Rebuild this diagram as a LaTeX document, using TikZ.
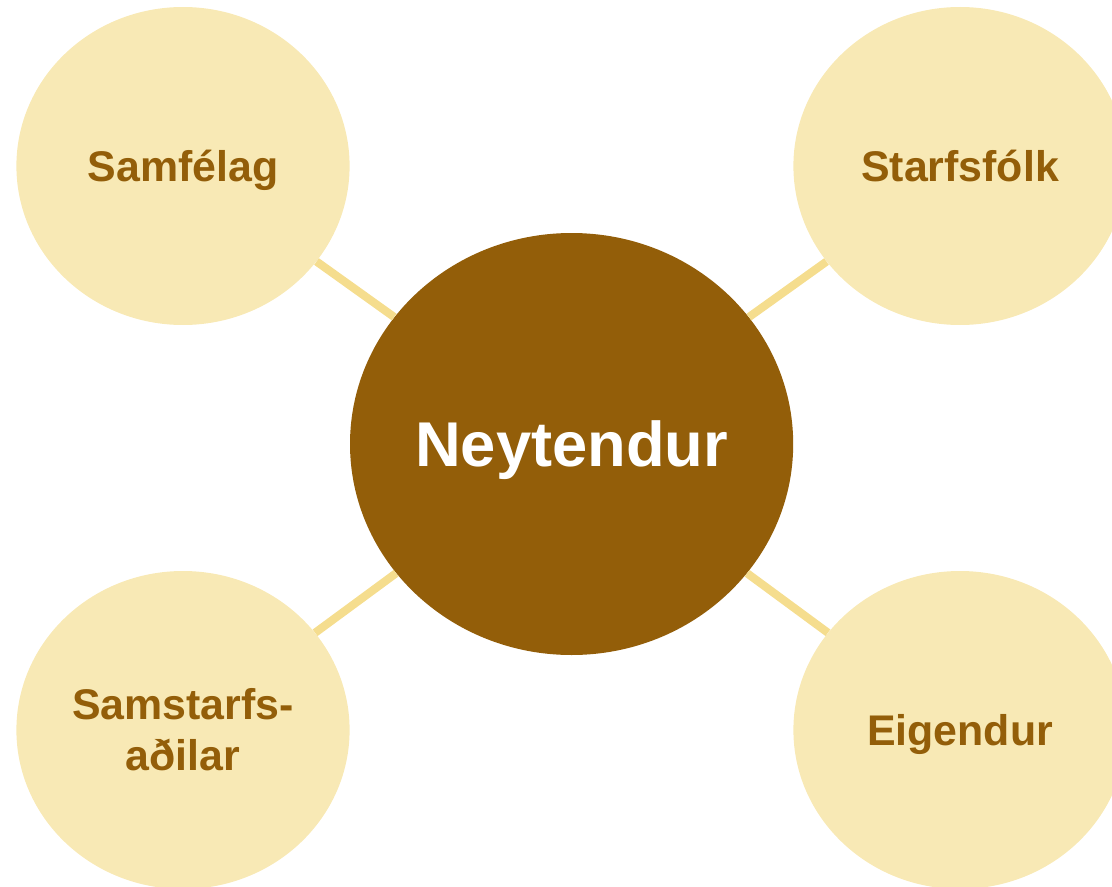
\documentclass[tikz,border=0pt]{standalone}
\usepackage{fontspec}
\setmainfont{Liberation Sans}
\usepackage{xcolor}
\usetikzlibrary{shapes.geometric}

\definecolor{brunn}{RGB}{147,94,9}
\definecolor{ljos}{RGB}{248,233,181}
\definecolor{tengi}{RGB}{245,221,142}

\begin{document}
\begin{tikzpicture}[
    midja/.style={ellipse, fill=brunn, text=white, inner sep=0pt,
        minimum width=11.08cm, minimum height=10.55cm,
        text height=32pt, text depth=0pt,
        font=\fontsize{45}{54}\selectfont\bfseries},
    hagsmunir/.style={ellipse, fill=ljos, text=brunn, inner sep=0pt, align=center,
        minimum width=8.33cm, minimum height=7.95cm,
        font=\fontsize{30.5}{36.5}\selectfont\bfseries},
    einlina/.style={hagsmunir, text height=22pt, text depth=0pt},
    tenging/.style={draw=tengi, line width=5.8pt}
]
\useasboundingbox (0,0) rectangle (27.8,-22.175);
\clip (0,0) rectangle (27.8,-22.175);

\node[midja] (neyt) at (14.29,-11.1) {Neytendur};
\node[einlina] (samf) at (4.575,-4.15) {Samfélag};
\node[einlina] (starf) at (24.0,-4.15) {Starfsfólk};
\node[hagsmunir] (samst) at (4.575,-18.25) {Samstarfs-\\aðilar};
\node[einlina] (eig) at (24.0,-18.25) {Eigendur};

\draw[tenging] (neyt) -- (samf);
\draw[tenging] (neyt) -- (starf);
\draw[tenging] (neyt) -- (samst);
\draw[tenging] (neyt) -- (eig);
\end{tikzpicture}
\end{document}
